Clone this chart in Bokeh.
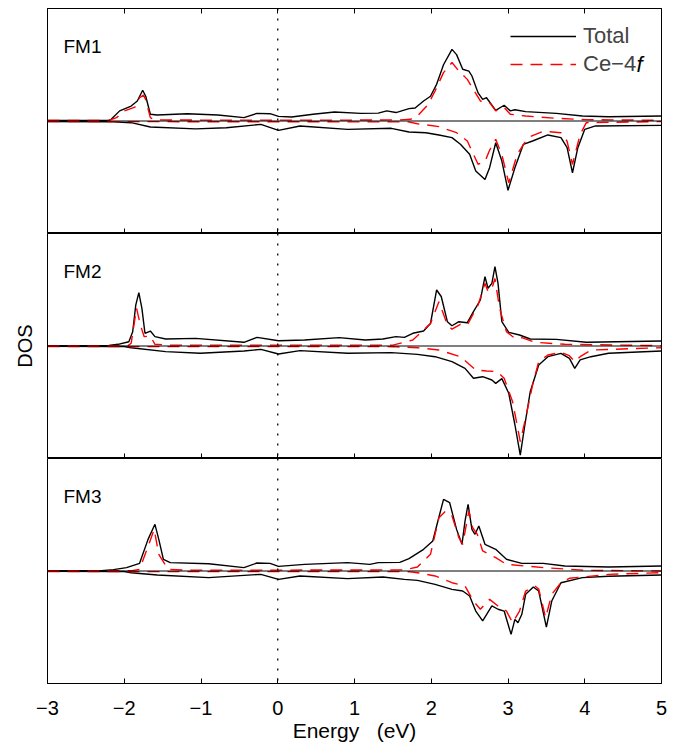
from bokeh.plotting import figure
from bokeh.models import Span, Range1d, FixedTicker, LinearAxis, Legend, LegendItem, Label
from bokeh.layouts import column
from bokeh.embed import file_html
from bokeh.resources import INLINE

FONT = "Liberation Sans"

x_ticks = [-3, -2, -1, 0, 1, 2, 3, 4, 5]
x_tick_labels = ["\u22123", "\u22122", "\u22121", "0", "1", "2", "3", "4", "5"]
panel_names = ["FM1", "FM2", "FM3"]
x_label = "Energy\u00a0\u00a0\u00a0(eV)"
y_label = "DOS"
legend_labels = ["Total", "Ce\u22124"]
legend_italic_suffix = "f"

# (energy, DOS) pairs; negative = spin down
fm1_total_up = [(-3.0, 0.05), (-2.5, 0.05), (-2.2, 0.06), (-2.17, 0.15), (-2.06, 0.9), (-1.91, 1.33),
                (-1.83, 1.78), (-1.76, 2.73), (-1.72, 2.2), (-1.66, 0.6), (-1.57, 0.53), (-1.18, 0.65),
                (-0.78, 0.53), (-0.44, 0.3), (-0.27, 0.68), (-0.1, 0.65), (0.01, 0.41), (0.18, 0.36),
                (0.46, 0.6), (0.74, 0.8), (1.08, 0.68), (1.31, 0.7), (1.42, 0.9), (1.54, 0.75), (1.71, 1.1),
                (1.79, 1.15), (1.90, 1.78), (1.99, 2.2), (2.07, 3.26), (2.16, 5.0), (2.27, 6.37), (2.33, 5.9),
                (2.41, 4.6), (2.49, 4.44), (2.53, 4.0), (2.61, 2.5), (2.67, 1.93), (2.72, 2.07), (2.84, 0.95),
                (2.95, 1.4), (3.03, 0.9), (3.09, 1.0), (3.23, 0.83), (3.63, 0.68), (3.97, 0.44), (4.31, 0.38),
                (5.0, 0.44)]
fm1_ce_up = [(-3.0, 0.05), (-2.2, 0.05), (-2.1, 0.3), (-2.0, 0.9), (-1.86, 1.24), (-1.8, 2.07), (-1.75, 2.3),
             (-1.72, 1.9), (-1.66, 0.3), (-1.6, 0.1), (-1.0, 0.08), (0.0, 0.08), (1.0, 0.08), (1.6, 0.1),
             (1.73, 0.15), (1.82, 0.44), (1.96, 1.48), (2.05, 2.67), (2.16, 4.3), (2.27, 5.2), (2.36, 4.44),
             (2.47, 3.7), (2.56, 2.67), (2.64, 1.78), (2.76, 1.63), (2.84, 0.9), (2.95, 1.2), (3.03, 0.6),
             (3.23, 0.44), (3.63, 0.24), (4.02, 0.12), (5.0, 0.06)]
fm1_total_dn = [(-3.0, -0.05), (-2.2, -0.06), (-1.91, -0.15), (-1.66, -0.53), (-1.07, -0.7), (-0.67, -0.6),
                (-0.22, -0.3), (0.01, -0.83), (0.29, -0.44), (0.91, -0.74), (1.48, -0.65), (1.71, -0.98),
                (1.93, -1.04), (2.1, -1.24), (2.27, -1.48), (2.38, -2.07), (2.5, -2.96), (2.58, -4.44),
                (2.7, -5.2), (2.76, -4.15), (2.84, -1.93), (2.92, -3.56), (3.0, -6.16), (3.09, -4.15),
                (3.2, -2.07), (3.32, -1.78), (3.52, -1.24), (3.69, -1.48), (3.77, -2.37), (3.84, -4.6),
                (3.91, -2.37), (4.0, -0.74), (4.14, -0.44), (5.0, -0.39)]
fm1_ce_dn = [(-3.0, -0.05), (1.7, -0.08), (1.82, -0.24), (2.1, -0.5), (2.33, -1.04), (2.47, -1.78),
             (2.61, -3.85), (2.7, -3.6), (2.76, -2.6), (2.84, -1.63), (2.92, -3.0), (3.01, -5.5),
             (3.12, -2.96), (3.26, -1.48), (3.46, -0.9), (3.69, -1.04), (3.77, -1.8), (3.84, -3.85),
             (3.94, -1.2), (4.02, -0.15), (5.0, -0.05)]

fm2_total_up = [(-3.0, 0.03), (-2.2, 0.05), (-2.08, 0.15), (-1.94, 0.38), (-1.89, 1.27), (-1.85, 3.64),
                (-1.81, 4.74), (-1.77, 3.35), (-1.73, 1.13), (-1.66, 1.33), (-1.6, 0.83), (-1.46, 0.62),
                (-1.07, 0.68), (-0.44, 0.33), (-0.27, 0.77), (0.01, 0.47), (0.35, 0.53), (0.8, 0.74),
                (1.14, 0.53), (1.37, 0.62), (1.54, 0.83), (1.65, 0.77), (1.76, 1.13), (1.9, 1.33), (1.99, 2.0),
                (2.07, 4.98), (2.13, 4.4), (2.21, 2.16), (2.27, 1.8), (2.36, 2.16), (2.47, 2.07), (2.55, 3.05),
                (2.64, 4.09), (2.7, 6.16), (2.74, 5.13), (2.79, 5.57), (2.83, 7.05), (2.87, 5.57), (2.92, 2.16),
                (3.01, 1.21), (3.15, 0.98), (3.29, 0.62), (3.63, 0.59), (4.02, 0.33), (5.0, 0.44)]
fm2_ce_up = [(-3.0, 0.03), (-1.95, 0.03), (-1.91, 0.24), (-1.84, 3.35), (-1.79, 1.87), (-1.74, 0.83),
             (-1.66, 0.89), (-1.6, 0.15), (-1.4, 0.08), (0.0, 0.08), (1.5, 0.08), (1.76, 0.53), (1.99, 2.0),
             (2.1, 3.94), (2.21, 1.87), (2.27, 1.5), (2.38, 1.93), (2.47, 1.87), (2.61, 3.64), (2.7, 5.57),
             (2.74, 4.83), (2.79, 5.1), (2.83, 6.0), (2.89, 3.35), (2.98, 1.27), (3.09, 0.68), (3.18, 0.74),
             (3.35, 0.33), (3.74, 0.15), (5.0, 0.03)]
fm2_total_dn = [(-3.0, -0.03), (-2.0, -0.05), (-1.91, -0.15), (-1.46, -0.5), (-1.01, -0.65), (-0.44, -0.44),
                (-0.22, -0.3), (0.01, -0.71), (0.29, -0.41), (0.91, -0.65), (1.48, -0.59), (1.82, -0.74),
                (2.05, -0.95), (2.27, -1.39), (2.44, -1.99), (2.55, -2.87), (2.67, -2.73), (2.79, -3.02),
                (2.84, -3.32), (2.92, -2.9), (3.01, -4.2), (3.09, -7.0), (3.16, -9.7), (3.22, -7.0),
                (3.29, -4.06), (3.4, -1.69), (3.52, -0.95), (3.69, -0.65), (3.8, -1.1), (3.87, -1.99),
                (3.94, -1.24), (4.08, -0.95), (4.31, -0.65), (5.0, -0.44)]
fm2_ce_dn = [(-3.0, -0.05), (1.5, -0.06), (1.82, -0.15), (2.1, -0.36), (2.38, -0.95), (2.58, -2.13),
             (2.72, -2.22), (2.86, -2.28), (2.95, -2.87), (3.06, -4.95), (3.16, -8.5), (3.23, -6.4),
             (3.32, -3.47), (3.4, -1.39), (3.52, -0.8), (3.69, -0.56), (3.8, -0.86), (3.87, -1.39),
             (3.94, -0.95), (4.08, -0.36), (5.0, -0.15)]

fm3_total_up = [(-3.0, 0.03), (-2.3, 0.03), (-2.14, 0.12), (-1.97, 0.3), (-1.8, 0.68), (-1.69, 2.81),
                (-1.6, 4.15), (-1.55, 2.81), (-1.49, 1.04), (-1.4, 0.74), (-0.9, 0.65), (-0.44, 0.3),
                (-0.27, 0.71), (-0.1, 0.68), (0.01, 0.41), (0.35, 0.59), (0.91, 0.74), (1.2, 0.59), (1.31, 0.74),
                (1.59, 0.77), (1.71, 1.1), (1.9, 1.93), (2.02, 2.67), (2.07, 4.0), (2.16, 6.37), (2.24, 6.07),
                (2.33, 3.7), (2.4, 2.37), (2.44, 4.44), (2.48, 5.93), (2.53, 3.7), (2.57, 3.26), (2.62, 4.0),
                (2.7, 2.37), (2.84, 1.93), (2.98, 1.04), (3.18, 0.68), (3.46, 0.68), (3.74, 0.44), (4.31, 0.36),
                (5.0, 0.44)]
fm3_ce_up = [(-3.0, 0.03), (-1.9, 0.03), (-1.8, 0.15), (-1.68, 2.37), (-1.61, 3.7), (-1.55, 1.48),
             (-1.43, 0.15), (-1.2, 0.08), (0.0, 0.08), (1.65, 0.1), (1.82, 0.36), (1.99, 1.48), (2.1, 4.74),
             (2.19, 5.33), (2.27, 4.9), (2.36, 2.96), (2.41, 2.37), (2.49, 5.33), (2.54, 3.85), (2.6, 3.26),
             (2.67, 1.78), (2.84, 1.19), (2.98, 0.59), (3.46, 0.3), (4.02, 0.06), (5.0, 0.0)]
fm3_total_dn = [(-3.0, -0.03), (-2.0, -0.05), (-1.91, -0.15), (-1.57, -0.36), (-0.9, -0.59), (-0.44, -0.39),
                (-0.22, -0.3), (0.01, -0.74), (0.29, -0.44), (0.91, -0.68), (1.37, -0.53), (1.65, -0.74),
                (1.82, -0.83), (2.05, -1.19), (2.27, -1.63), (2.41, -1.78), (2.5, -2.22), (2.58, -3.56),
                (2.67, -4.44), (2.79, -3.11), (2.87, -3.4), (2.95, -3.56), (3.04, -5.63), (3.09, -4.3),
                (3.13, -4.6), (3.18, -3.85), (3.23, -2.07), (3.33, -1.42), (3.4, -1.78), (3.5, -4.98),
                (3.57, -2.67), (3.69, -1.04), (3.97, -0.59), (4.31, -0.47), (5.0, -0.36)]
fm3_ce_dn = [(-3.0, -0.05), (1.7, -0.06), (1.82, -0.15), (2.05, -0.44), (2.27, -1.04), (2.44, -1.33),
             (2.55, -2.67), (2.64, -3.4), (2.76, -2.52), (2.87, -3.11), (2.98, -3.56), (3.06, -4.6),
             (3.15, -3.56), (3.23, -1.78), (3.35, -1.33), (3.4, -1.6), (3.49, -4.15), (3.57, -2.07),
             (3.69, -1.04), (3.8, -0.65), (4.31, -0.3), (5.0, -0.15)]

panels = [
    (fm1_total_up, fm1_total_dn, fm1_ce_up, fm1_ce_dn),
    (fm2_total_up, fm2_total_dn, fm2_ce_up, fm2_ce_dn),
    (fm3_total_up, fm3_total_dn, fm3_ce_up, fm3_ce_dn),
]

overrides = {t: lab for t, lab in zip(x_ticks, x_tick_labels)}
RED_DASH = "12 8"
FRAME_H = 225


def unlabeled_ticks(axis):
    # ticks drawn as minor ticks so that no (empty) tick labels are produced
    axis.ticker = FixedTicker(ticks=[], minor_ticks=x_ticks)
    axis.minor_tick_in = 5
    axis.minor_tick_out = 0
    axis.minor_tick_line_color = "black"
    axis.major_tick_line_color = None
    axis.major_label_standoff = 0
    axis.axis_line_color = "black"


figs = []
for i, (tu, td, cu, cd) in enumerate(panels):
    last = (i == 2)
    p = figure(frame_width=614, frame_height=FRAME_H, output_backend="svg", toolbar_location=None,
               x_range=Range1d(-3, 5), y_range=Range1d(-10, 10),
               min_border_left=47, min_border_right=12,
               min_border_top=8 if i == 0 else 0, min_border_bottom=0)
    p.xgrid.visible = False
    p.ygrid.visible = False
    p.outline_line_color = "black"
    p.outline_line_width = 1
    p.background_fill_color = "white"
    p.border_fill_color = "white"

    xa = p.xaxis[0]
    if last:
        xa.ticker = FixedTicker(ticks=x_ticks)
        xa.major_tick_in = 5
        xa.major_tick_out = 0
        xa.minor_tick_line_color = None
        xa.axis_line_color = "black"
        xa.major_tick_line_color = "black"
        xa.major_label_overrides = overrides
        xa.major_label_text_font = FONT
        xa.major_label_text_font_size = "20px"
        xa.major_label_text_color = "black"
        xa.major_label_standoff = 17
        xa.axis_label = x_label
        xa.axis_label_text_font = FONT
        xa.axis_label_text_font_size = "21px"
        xa.axis_label_text_font_style = "normal"
        xa.axis_label_text_color = "black"
        xa.axis_label_standoff = 1
    else:
        unlabeled_ticks(xa)

    if i == 0:
        top = LinearAxis()
        unlabeled_ticks(top)
        p.add_layout(top, "above")

    ya = p.yaxis[0]
    if i == 1:
        ya.ticker = FixedTicker(ticks=[])
        ya.major_tick_line_color = None
        ya.minor_tick_line_color = None
        ya.major_label_standoff = 0
        ya.axis_label = y_label
        ya.axis_label_text_font = FONT
        ya.axis_label_text_font_size = "20px"
        ya.axis_label_text_font_style = "normal"
        ya.axis_label_text_color = "black"
        ya.axis_label_standoff = 12
    else:
        ya.visible = False

    p.add_layout(Span(location=0, dimension="width", line_color="black", line_width=1))
    p.add_layout(Span(location=0, dimension="height", line_color="black", line_width=1.3,
                      line_dash="2 8"))

    r_tu = p.line([e for e, v in tu], [v for e, v in tu], line_color="black", line_width=1.4)
    p.line([e for e, v in td], [v for e, v in td], line_color="black", line_width=1.4)
    r_cu = p.line([e for e, v in cu], [v for e, v in cu], line_color="red", line_width=1.4,
                  line_dash=RED_DASH)
    p.line([e for e, v in cd], [v for e, v in cd], line_color="red", line_width=1.4, line_dash=RED_DASH)

    p.add_layout(Label(x=16, y=FRAME_H - 38, x_units="screen", y_units="screen", text=panel_names[i],
                       text_font=FONT, text_font_size="19px", text_baseline="middle",
                       text_color="black"))

    if i == 0:
        leg = Legend(items=[LegendItem(label=legend_labels[0], renderers=[r_tu]),
                            LegendItem(label=legend_labels[1], renderers=[r_cu])],
                     location=(463, 156), orientation="vertical",
                     label_text_font=FONT, label_text_font_size="22px",
                     glyph_width=66, glyph_height=22, label_height=22, label_standoff=7,
                     spacing=2, padding=0, margin=0,
                     border_line_color=None, background_fill_alpha=0)
        p.add_layout(leg)
        # italic "f" completing the "Ce-4f" legend entry
        p.add_layout(Label(x=463 + 66 + 7 + 53, y=FRAME_H - 55.5, x_units="screen", y_units="screen",
                           text=legend_italic_suffix, text_font=FONT, text_font_size="22px",
                           text_font_style="italic", text_baseline="middle", text_color="black"))
    figs.append(p)

layout = column(*figs, spacing=0)
open("out.html", "w").write(file_html(layout, INLINE))
